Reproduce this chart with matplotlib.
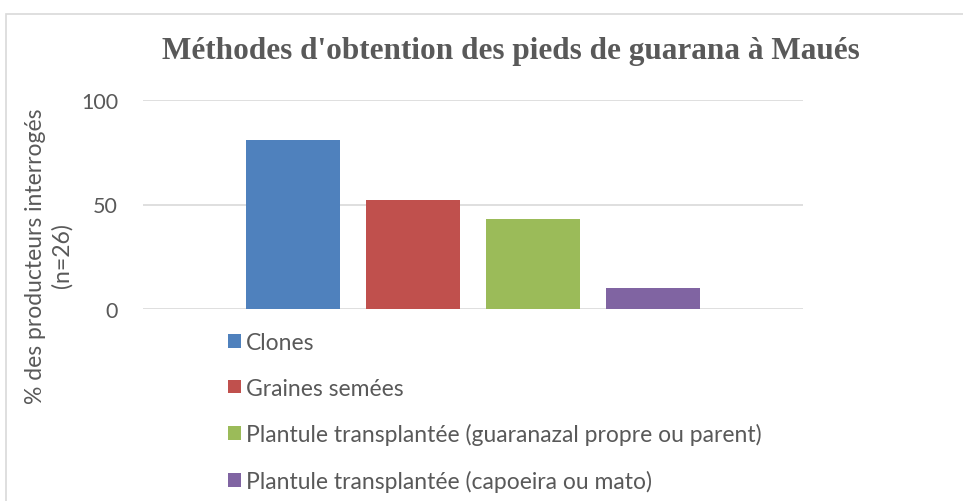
import matplotlib
matplotlib.use("Agg")
import matplotlib.pyplot as plt
from matplotlib.patches import Rectangle, Patch

title = "Méthodes d'obtention des pieds de guarana à Maués"
ylabel = "% des producteurs interrogés\n(n=26)"
series = ["Clones", "Graines semées",
          "Plantule transplantée (guaranazal propre ou parent)",
          "Plantule transplantée (capoeira ou mato)"]
values = [81, 52, 43, 10]
colors = ["#4F81BD", "#C0504D", "#9BBB59", "#8064A2"]
yticks = [0, 50, 100]

W, H = 963, 502
fig = plt.figure(figsize=(W / 100, H / 100), dpi=100)
fig.patches.append(Rectangle((6 / W, -0.01), (W - 6) / W + 0.01, (H - 15) / H + 0.01,
                             transform=fig.transFigure, fill=False,
                             edgecolor="#D9D9D9", linewidth=1.2))

ax = fig.add_axes([143 / W, (H - 310) / H, (803 - 143) / W, (310 - 101) / H])
offsets = [-1.5, -0.5, 0.5, 1.5]
for off, v, c in zip(offsets, values, colors):
    ax.bar(off, v, width=0.78, color=c, zorder=3)
ax.set_xlim(-2.75, 2.75)
ax.set_ylim(0, 100)
ax.set_yticks(yticks)
ax.set_xticks([])
ax.grid(axis="y", color="#D9D9D9", linewidth=1.2, zorder=0)
for s in ax.spines.values():
    s.set_visible(False)
ax.tick_params(axis="y", length=0, pad=18, labelsize=15.5, labelcolor="#595959")
for t in ax.get_yticklabels():
    t.set_family("Lato")

fig.text(511 / W, 1 - 52 / H, title, ha="center", va="center",
         fontsize=22.5, fontweight="bold", color="#595959", family="Liberation Serif")
fig.text(49 / W, 1 - 256 / H, ylabel, ha="center", va="center", rotation=90,
         fontsize=16.5, color="#595959", family="Lato", linespacing=1.3)

handles = [Patch(facecolor=c, edgecolor="none") for c in colors]
leg = fig.legend(handles, series, loc="upper left",
                 bbox_to_anchor=(228 / W, 1 - 333 / H), frameon=False,
                 prop={"family": "Lato", "size": 16.5}, labelcolor="#595959",
                 handlelength=0.55, handleheight=0.55, handletextpad=0.25,
                 labelspacing=1.07, borderpad=0, borderaxespad=0)

fig.savefig("out.png", dpi=100, facecolor="white")
